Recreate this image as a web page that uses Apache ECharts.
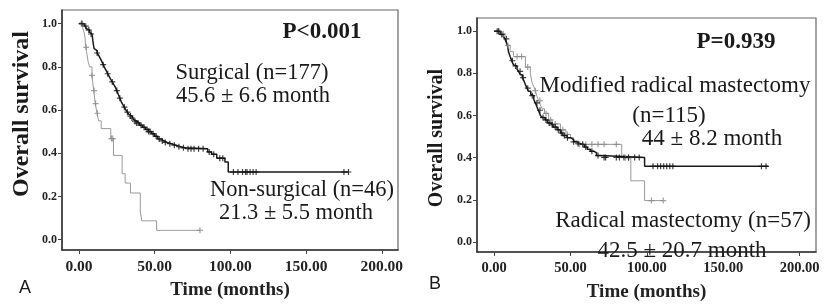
<!DOCTYPE html>
<html><head><meta charset="utf-8">
<script src="https://cdn.jsdelivr.net/npm/echarts@6/dist/echarts.min.js"></script>
<style>html,body{margin:0;padding:0;background:#fff}#c{width:828px;height:307px}</style>
</head><body><div id="c"></div>
<script>
// ---- ticks ----
const xTicks = [0, 50, 100, 150, 200];
const yTicks = [0, 0.2, 0.4, 0.6, 0.8, 1.0];

// ---- Panel A: Surgical (n=177) ----
const surgT = [0, 3, 4, 5, 6, 7, 8, 8.6, 9.2, 9.6, 10, 11, 12, 13, 14, 15, 16, 17, 18, 19, 20, 21, 22, 23, 24, 25, 26, 27, 28, 29, 30, 31, 32, 33, 34, 35, 36, 37, 38, 40, 42, 44, 46, 48, 50, 52, 54, 56, 58, 61, 64, 67, 70, 85, 87.6, 91, 96.4, 98.6, 178];
const surgS = [1.0, .994, .988, .977, .97, .96, .952, .946, .92, .90, .884, .875, .864, .853, .84, .826, .81, .795, .782, .768, .755, .742, .73, .718, .706, .69, .672, .655, .637, .625, .613, .60, .59, .58, .572, .563, .556, .548, .54, .53, .52, .51, .50, .49, .478, .466, .457, .45, .444, .437, .43, .425, .421, .406, .395, .377, .359, .313, .313];
const surgCensor = [2, 4.5, 6.5, 8, 12, 16, 19, 22, 25, 27, 30, 32, 34, 35, 37, 38, 39, 41, 43, 45, 46, 47, 49, 51, 53, 55, 57, 60, 63, 66, 69, 72, 74, 76, 79, 82, 86, 89, 93, 95, 102, 105, 108, 110, 111, 113, 115, 117, 175, 178];
// ---- Panel A: Non-surgical (n=46) ----
const nonT = [0, 2.5, 3.5, 4, 4.5, 5, 6, 7, 8.6, 9.7, 10.8, 11.9, 13, 14.7, 21, 22.8, 28.5, 30.5, 34, 40.5, 41.5, 51.3, 79.9];
const nonS = [1.0, .978, .956, .934, .89, .87, .826, .80, .76, .69, .63, .585, .55, .514, .468, .39, .305, .262, .216, .128, .087, .043, .043];
const nonCensor = [1.5, 4.8, 8.6, 10, 11, 12.2, 21.5, 22.3, 79.9];

// ---- Panel B: Modified radical mastectomy (n=115) ----
const modT = [0, 4, 6, 7.2, 8.5, 9.4, 10.5, 11.5, 12.7, 13.8, 15, 16, 17.1, 18.5, 19.5, 20.4, 21.5, 22.5, 24, 24.8, 26, 27, 28.1, 29, 30.3, 31.5, 33.4, 35, 36.8, 38.5, 41.2, 43.4, 45, 47.8, 50, 52, 54, 56.6, 59, 61, 63, 65.3, 67, 69.7, 98.5, 179.5];
const modS = [1.0, .985, .975, .964, .94, .903, .88, .86, .84, .835, .82, .81, .794, .78, .765, .748, .73, .715, .70, .694, .675, .66, .64, .625, .60, .59, .579, .565, .556, .545, .532, .517, .505, .495, .486, .475, .466, .463, .45, .44, .43, .424, .41, .401, .359, .359];
const modCensor = [2, 3, 5, 8, 12, 14, 17, 19, 22, 25, 28, 30, 32, 34, 36, 38, 40, 42, 44, 46, 48, 52, 55, 58, 60, 64, 68, 72, 73, 80, 82, 85, 88, 92, 95, 104, 107, 109, 111, 113, 115, 117, 175, 178];
// ---- Panel B: Radical mastectomy (n=57) ----
const radT = [0, 4, 7, 8.3, 10.5, 12.7, 20.5, 23.7, 24.8, 26, 27, 28.1, 29.1, 30.3, 31.4, 33, 35.7, 38, 43.4, 47, 50, 52, 54.5, 83.5, 89.5, 98.5, 110.7];
const radS = [1.0, .987, .96, .933, .903, .88, .83, .80, .756, .737, .718, .69, .671, .65, .632, .61, .579, .56, .532, .51, .495, .48, .463, .40, .29, .196, .196];
const radCensor = [3, 6, 9, 15, 18, 22, 27, 30, 34, 37, 40, 45, 48, 56, 60, 64, 68, 72, 80, 86, 88, 103, 110.7];

function stepAt(T, S, t) { let v = S[0]; for (let i = 0; i < T.length; i++) { if (T[i] <= t) v = S[i]; else break; } return v; }
function pairs(T, S) { return T.map((t, i) => [t, S[i]]); }
function cens(T, S, C) { return C.map(t => [t, stepAt(T, S, t)]); }

const PLUS = 'path://M4,0H6V4H10V6H6V10H4V6H0V4H4Z';
const SERIF = '"Liberation Serif", "Times New Roman", serif';

function xAx(gi, labelSize) {
  return {
    type: 'value', gridIndex: gi, min: -11.2, max: 210.7,
    axisLine: { show: true, onZero: false, lineStyle: { color: '#333', width: 1.5 } },
    axisTick: { show: true, length: 4, customValues: xTicks, lineStyle: { color: '#444' } },
    axisLabel: { customValues: xTicks, formatter: v => Number(v).toFixed(2), fontFamily: SERIF, fontWeight: 'bold', fontSize: labelSize, color: '#222', margin: 9 },
    splitLine: { show: false },
    name: 'Time (months)', nameLocation: 'middle', nameGap: 31,
    nameTextStyle: { fontFamily: SERIF, fontWeight: 'bold', fontSize: 19, color: '#222' }
  };
}
function yAx(gi) {
  return {
    type: 'value', gridIndex: gi, min: -0.048, max: 1.063,
    axisLine: { show: true, onZero: false, lineStyle: { color: '#333', width: 1.5 } },
    axisTick: { show: true, length: 4, customValues: yTicks, lineStyle: { color: '#444' } },
    axisLabel: { customValues: yTicks, formatter: v => Number(v).toFixed(1), fontFamily: SERIF, fontWeight: 'bold', fontSize: 12, color: '#222', margin: 5 },
    splitLine: { show: false }
  };
}
function km(name, T, S, gi, color, w) {
  return { type: 'line', name, xAxisIndex: gi, yAxisIndex: gi, data: pairs(T, S), step: 'end', showSymbol: false, symbol: 'none', lineStyle: { color, width: w }, animation: false, z: 2 };
}
function cm(name, T, S, C, gi, color) {
  return { type: 'scatter', name: name + ' censored', xAxisIndex: gi, yAxisIndex: gi, data: cens(T, S, C), symbol: PLUS, symbolSize: 6, itemStyle: { color }, animation: false, z: 3 };
}
function txt(text, x, y, size, bold, family, rot) {
  return { type: 'text', x, y, rotation: rot || 0, style: { text, fill: '#1a1a1a', align: 'center', verticalAlign: 'middle', fontSize: size, fontWeight: bold ? 'bold' : 'normal', fontFamily: family || SERIF }, z: 10 };
}

const chart = echarts.init(document.getElementById('c'));
chart.setOption({
  backgroundColor: '#fff',
  animation: false,
  grid: [
    { left: 62, top: 10, width: 336, height: 240, show: true, borderColor: '#666', borderWidth: 1.2, backgroundColor: 'transparent' },
    { left: 477, top: 18, width: 339, height: 240, show: true, borderColor: '#666', borderWidth: 1.2, backgroundColor: 'transparent' }
  ],
  xAxis: [xAx(0, 15.5), xAx(1, 14.5)],
  yAxis: [yAx(0), yAx(1)],
  series: [
    km('Non-surgical', nonT, nonS, 0, '#9a9a9a', 1),
    km('Surgical', surgT, surgS, 0, '#1a1a1a', 1.5),
    cm('Non-surgical', nonT, nonS, nonCensor, 0, '#8a8a8a'),
    cm('Surgical', surgT, surgS, surgCensor, 0, '#111'),
    km('Radical mastectomy', radT, radS, 1, '#9a9a9a', 1),
    km('Modified radical mastectomy', modT, modS, 1, '#1a1a1a', 1.5),
    cm('Radical mastectomy', radT, radS, radCensor, 1, '#8a8a8a'),
    cm('Modified radical mastectomy', modT, modS, modCensor, 1, '#111')
  ],
  graphic: [
    txt('Overall survival', 22, 114, 24, true, null, Math.PI / 2),
    txt('Overall survival', 437, 138, 20, true, null, Math.PI / 2),
    txt('P<0.001', 322, 32, 23, true),
    txt('Surgical (n=177)', 252, 73, 22.5),
    txt('45.6 ± 6.6 month', 253, 96, 22.5),
    txt('Non-surgical (n=46)', 302, 190, 22.5),
    txt('21.3 ± 5.5 month', 296, 213, 22.5),
    txt('A', 25, 288, 18, false, '"Liberation Sans", Arial, sans-serif'),
    txt('P=0.939', 736, 42, 23, true),
    txt('Modified radical mastectomy', 675, 86, 23),
    txt('(n=115)', 669, 116, 23),
    txt('44 ± 8.2 month', 712, 139, 23),
    txt('Radical mastectomy (n=57)', 683, 221, 23),
    txt('42.5 ± 20.7 month', 682, 251, 23),
    txt('B', 435, 284, 18, false, '"Liberation Sans", Arial, sans-serif')
  ]
});
</script>
</body></html>
